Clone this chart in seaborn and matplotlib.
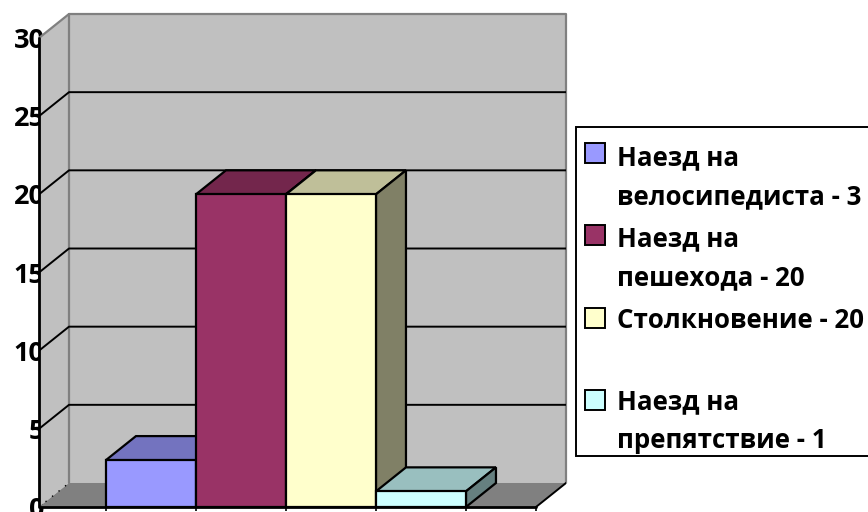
import seaborn as sns
import matplotlib.pyplot as plt
from matplotlib.patches import Polygon, Rectangle

# data
categories = ["Наезд на велосипедиста", "Наезд на пешехода", "Столкновение", "Наезд на препятствие"]
values = [3, 20, 20, 1]
y_ticks = [0, 5, 10, 15, 20, 25, 30]
legend_lines = [["Наезд на", "велосипедиста - 3"],
                ["Наезд на", "пешехода - 20"],
                ["Столкновение - 20"],
                ["Наезд на", "препятствие - 1"]]

front_colors = ["#9999FF", "#993366", "#FFFFCC", "#CCFFFF"]
top_colors = ["#7373BF", "#73264C", "#BFBF99", "#99BFBF"]
side_colors = ["#666699", "#5C1F3D", "#808066", "#668080"]

sns.set_theme(style="white")
plt.rcParams["font.family"] = ["Open Sans", "DejaVu Sans"]

W, H = 868, 512
f = plt.figure(figsize=(W / 100, H / 100), dpi=100)
ax = f.add_axes([39 / W, (H - 507) / H, 527 / W, 493 / H])

# front faces of the bars
sns.barplot(x=categories, y=values, hue=categories, palette=front_colors, width=1,
            dodge=False, legend=False, edgecolor="black", linewidth=1.6, saturation=1, ax=ax)

# the 3d box is sheared by this much (in data units)
dx, dy = 1 / 3, 24 / 15.63
x0, x1 = -1.244, 4.278
y_top = 30
ax.set_xlim(x0, x1 + dx)
ax.set_ylim(0, y_top + dy)

# walls and floor
ax.add_patch(Polygon([(x0, 0), (x0 + dx, dy), (x0 + dx, y_top + dy), (x0, y_top)],
                     fc="#C0C0C0", ec="none", zorder=1, clip_on=False))
ax.add_patch(Polygon([(x0 + dx, dy), (x1 + dx, dy), (x1 + dx, y_top + dy), (x0 + dx, y_top + dy)],
                     fc="#C0C0C0", ec="none", zorder=1, clip_on=False))
ax.add_patch(Polygon([(x0, 0), (x0 + dx, dy), (x1 + dx, dy), (x1, 0)],
                     fc="#808080", ec="none", zorder=1, clip_on=False))
grey = "#808080"
ax.plot([x0, x0 + dx, x1 + dx, x1 + dx], [y_top, y_top + dy, y_top + dy, dy],
        color=grey, lw=1.6, zorder=2, clip_on=False)
ax.plot([x0 + dx, x0 + dx], [dy, y_top + dy], color=grey, lw=1.6, zorder=2, clip_on=False)

# grid lines
for v in y_ticks[1:-1]:
    ax.plot([x0, x0 + dx, x1 + dx], [v, v + dy, v + dy], color="black", lw=1.4, zorder=3)
ax.plot([x0, x0 + dx], [0, dy], color="black", lw=1, ls=(0, (1, 5)), zorder=3)
ax.plot([x1, x1 + dx], [0, dy], color="black", lw=1.4, zorder=3)
ax.plot([x0, x0, x1], [y_top, 0, 0], color="black", lw=2, zorder=30, clip_on=False)

# top and side faces, painted left to right
edges = []
for i, bar in enumerate(ax.patches[:len(values)]):
    left, right = bar.get_x(), bar.get_x() + bar.get_width()
    edges += [left, right]
    h = bar.get_height()
    bar.set_zorder(10 + 2 * i + 1)
    ax.add_patch(Polygon([(left, h), (left + dx, h + dy), (right + dx, h + dy), (right, h)],
                         fc=top_colors[i], ec="black", lw=1.6, zorder=10 + 2 * i))
    ax.add_patch(Polygon([(right, 0), (right + dx, dy), (right + dx, h + dy), (right, h)],
                         fc=side_colors[i], ec="black", lw=1.6, zorder=10 + 2 * i))

ax.set_yticks(y_ticks)
ax.set_xticks(sorted(set(edges)) + [x1])
ax.set_xticklabels([])
ax.tick_params(axis="x", bottom=True, length=3, width=1.2, color="black")
ax.tick_params(axis="y", length=0, pad=-4, labelsize=19.5)
for t in ax.get_yticklabels():
    t.set_fontweight("bold")
    t.set_color("black")
    t.set_zorder(40)
    t.set_clip_on(False)
sns.despine(ax=ax, left=True, bottom=True)
ax.set_xlabel("")
ax.set_ylabel("")

# legend box, runs off the right edge like in the original
f.add_artist(Rectangle((576 / W, (H - 456) / H), 300 / W, 329 / H, transform=f.transFigure,
                       fc="white", ec="black", lw=1.4))
swatch_y = [163, 245, 328, 410]
first_base = [165, 246, 328, 409]
for i, lines in enumerate(legend_lines):
    f.add_artist(Rectangle((585 / W, (H - swatch_y[i]) / H), 20 / W, 20 / H, transform=f.transFigure,
                           fc=front_colors[i], ec="black", lw=1.4))
    for j, line in enumerate(lines):
        f.text(617 / W, (H - first_base[i] - j * 39) / H, line, fontsize=18.6, fontweight="bold",
               color="black", va="baseline", ha="left")

f.savefig("out.png", dpi=100)
